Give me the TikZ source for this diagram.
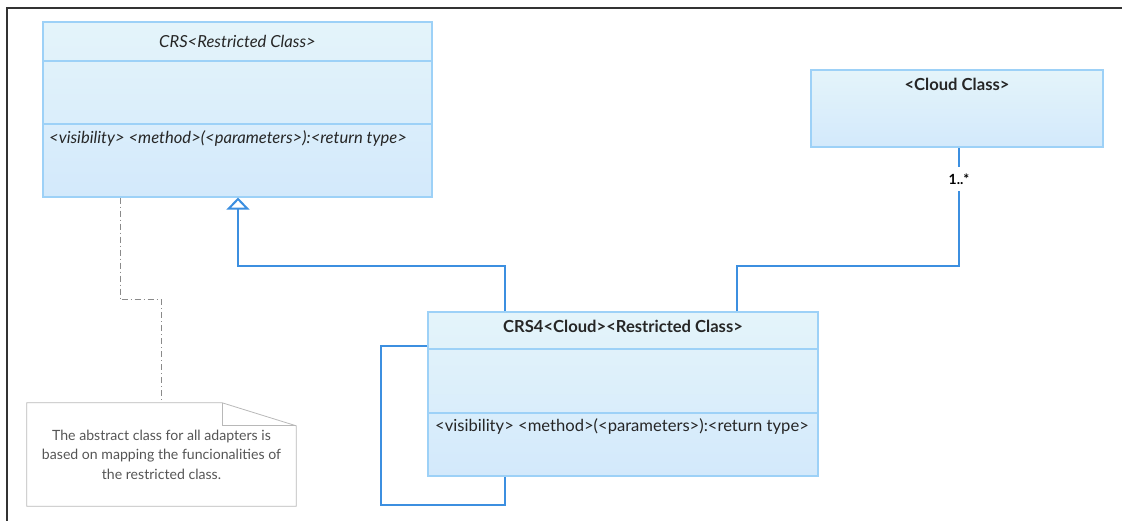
\documentclass[tikz,border=0pt]{standalone}
\usepackage{fontspec}
\setmainfont{Lato}
\usetikzlibrary{arrows.meta,calc}
\definecolor{linkblue}{HTML}{3C8FE0}
\definecolor{boxedge}{HTML}{9DD1F7}
\definecolor{boxtop}{HTML}{E4F4FA}
\definecolor{boxbot}{HTML}{D3E9FB}
\definecolor{notegray}{HTML}{B8B8B8}
\definecolor{notetext}{HTML}{555555}
\definecolor{framegray}{HTML}{333333}
\definecolor{dashgray}{HTML}{8A8A8A}
\begin{document}
\begin{tikzpicture}[x=1pt,y=-1pt,
  classbox/.style={draw=boxedge, line width=1.2pt, top color=boxtop, bottom color=boxbot,
    inner sep=0pt, rectangle},
  divider/.style={draw=boxedge, line width=1.2pt},
  titlebold/.style={font=\fontsize{16.6}{19}\selectfont\bfseries, text=black!85, inner sep=0pt},
  titleital/.style={font=\fontsize{16.6}{19}\selectfont\itshape, text=black!85, inner sep=0pt},
  opital/.style={font=\fontsize{16.6}{19}\selectfont\itshape, text=black!85, anchor=west, inner sep=0pt},
  opplain/.style={font=\fontsize{16.6}{19}\selectfont, text=black!85, anchor=west, inner sep=0pt},
  link/.style={draw=linkblue, line width=2.2pt},
  notelink/.style={draw=dashgray, line width=1pt, dash pattern=on 6pt off 3pt on 1pt off 3pt},
  notebox/.style={inner sep=0pt, align=center, text=notetext,
    font=\fontsize{14.1}{19.5}\selectfont},
  multlabel/.style={fill=white, inner xsep=2pt, inner ysep=7pt, text=black,
    font=\fontsize{14}{16}\selectfont\bfseries}
]
\useasboundingbox (0,0) rectangle (1122,521);

% outer frame (top and left edges)
\draw[framegray, line width=1.5pt] (7,521) -- (7,8) -- (1122,8);

% abstract class
\node[classbox, minimum width=389pt, minimum height=175pt] (crs) at (237.5,109.5) {};
\draw[divider] (crs.west |- 0,61) -- (crs.east |- 0,61);
\draw[divider] (crs.west |- 0,124) -- (crs.east |- 0,124);
\node[titleital] (crstitle) at (237.5,41) {CRS<Restricted Class>};
\node[opital] (crsop) at (49,138) {<visibility> <method>(<parameters>):<return type>};

% cloud class
\node[classbox, minimum width=292pt, minimum height=77pt] (cloud) at (957,108.5) {};
\node[titlebold] (cloudtitle) at (957,84) {<Cloud Class>};

% concrete adapter class
\node[classbox, minimum width=390pt, minimum height=164pt] (crs4) at (623,394) {};
\draw[divider] (crs4.west |- 0,349) -- (crs4.east |- 0,349);
\draw[divider] (crs4.west |- 0,413) -- (crs4.east |- 0,413);
\node[titlebold] (crs4title) at (623,326) {CRS4<Cloud><Restricted Class>};
\node[opplain] (crs4op) at (435,426) {<visibility> <method>(<parameters>):<return type>};

% note with folded corner
\node[notebox, minimum width=269pt, minimum height=103pt] (note) at (161.5,454.5)
  {The abstract class for all adapters is\\based on mapping the funcionalities of\\the restricted class.};
\draw[notegray, line width=0.8pt]
  (note.south west) -- (note.north west) -- ($(note.north east)+(-74,0)$)
  -- ($(note.north east)+(0,23)$) -- (note.south east) -- cycle;
\draw[notegray, line width=0.8pt]
  ($(note.north east)+(-74,0)$) -- ++(0,23) -- ($(note.north east)+(0,23)$);

% routing points
\coordinate (g1) at (505,266);
\coordinate (g2) at (238,266);
\coordinate (a1) at (737,266);
\coordinate (a2) at (959,266);
\coordinate (s1) at (381,346);
\coordinate (s2) at (505,505);
\coordinate (d1) at (120,300);

% note anchor line
\draw[notelink] (crs.south -| d1) -- (d1) -| (note.north);

% generalization
\draw[link, -{Triangle[open, length=12pt, width=23pt, line width=2pt]}]
  (crs4.north -| g1) -- (g1) -- (g2) -- (crs.south -| g2);

% association to the cloud class
\draw[link] (crs4.north -| a1) -- (a1) -- (a2) -- (cloud.south -| a2);
\node[multlabel] (mult) at (959,179) {1..*};

% self association
\draw[link] (crs4.west |- s1) -- (s1) |- (s2) -- (crs4.south -| s2);
\end{tikzpicture}
\end{document}
